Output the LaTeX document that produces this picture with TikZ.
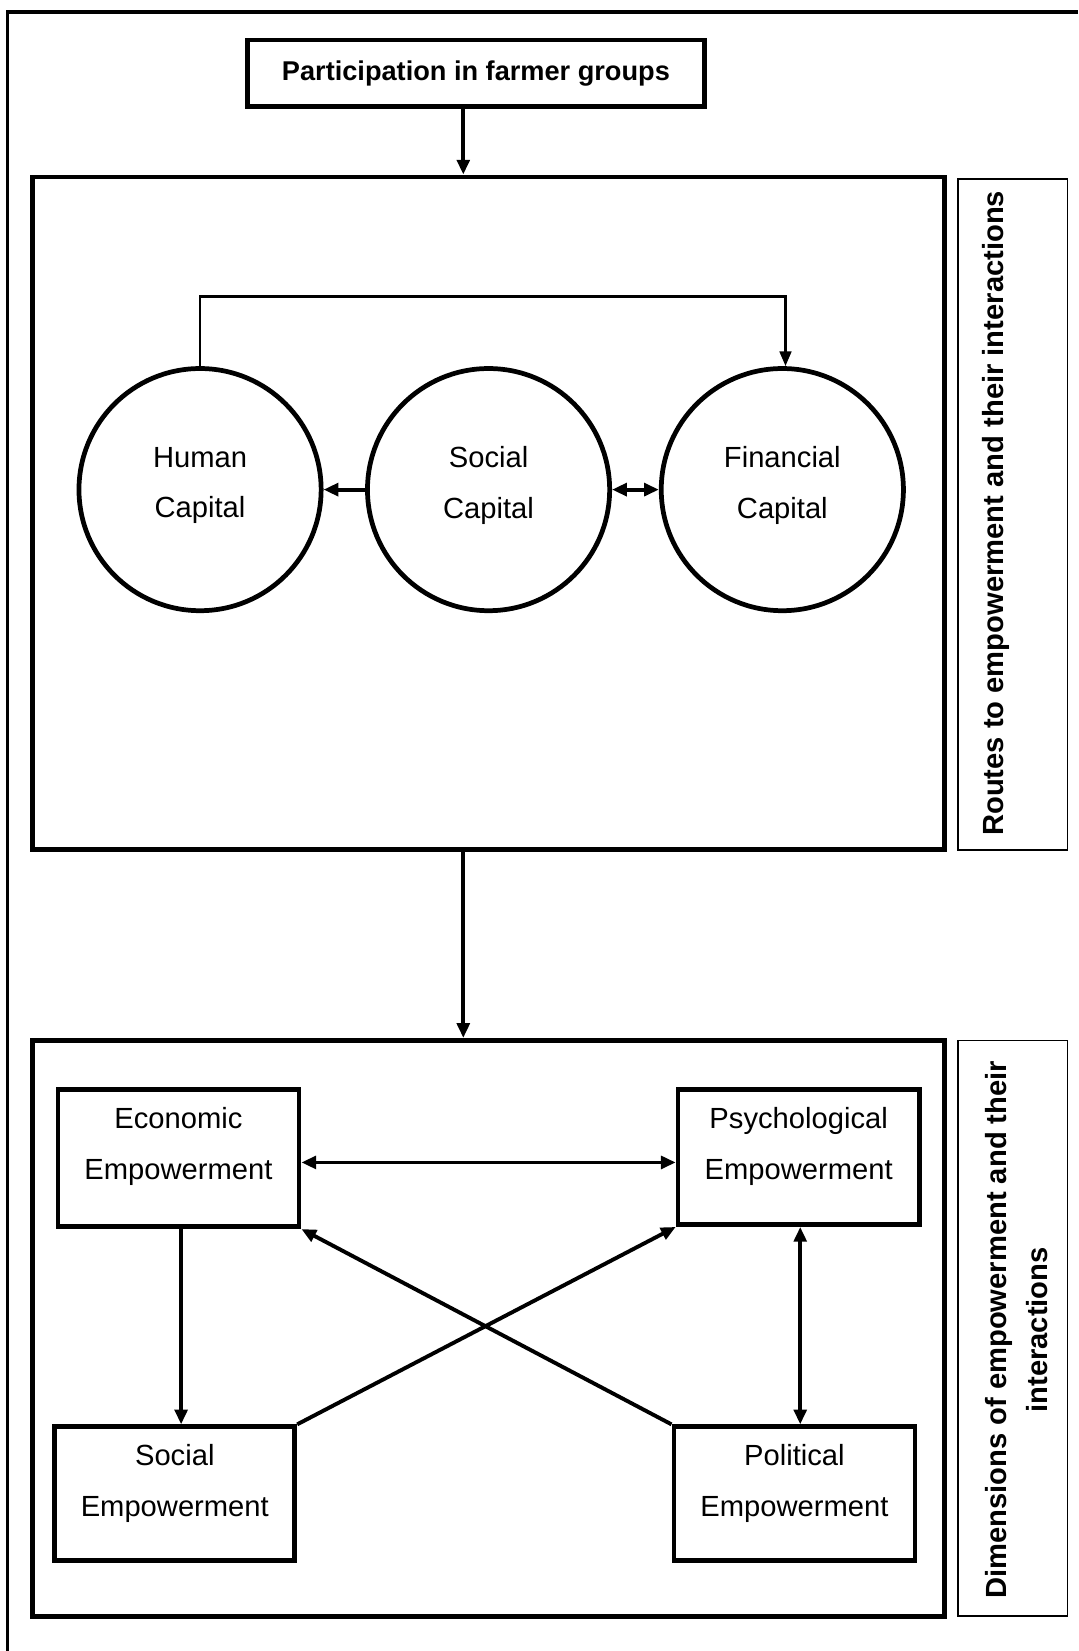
\documentclass[tikz,border=0pt]{standalone}
\usepackage{fontspec}
\setmainfont{Liberation Sans}
\usetikzlibrary{arrows.meta,calc}

\tikzset{
  outer/.style={line width=3.5pt},
  bigbox/.style={draw, line width=4.5pt, minimum width=866pt, inner sep=0pt},
  sidebox/.style={draw, line width=1.5pt, minimum width=104pt, inner sep=0pt},
  topbox/.style={draw, line width=4.5pt, minimum width=434pt, minimum height=63pt, inner sep=0pt,
    font=\bfseries\fontsize{25.8}{30}\selectfont},
  capital/.style={draw, circle, line width=4.5pt, minimum size=230pt, inner sep=0pt},
  dimbox/.style={draw, line width=4.5pt, minimum width=229pt, minimum height=129pt, inner sep=0pt},
  dimtext/.style={align=center, inner sep=0pt},
  sidetext/.style={rotate=90, align=center, inner sep=0pt,
    font=\bfseries\fontsize{27.7}{39}\selectfont},
  arr/.style={line width=3.7pt, -{Triangle[length=14pt,width=12pt]}},
  dblarr/.style={line width=3.7pt, {Triangle[length=14pt,width=12pt]}-{Triangle[length=14pt,width=12pt]}},
  link/.style={line width=2.7pt, -{Triangle[length=14pt,width=11pt]}},
}

\begin{document}
\begin{tikzpicture}[x=1pt, y=-1pt, font=\fontsize{27.7}{48}\selectfont]
\useasboundingbox[fill=white] (0,0) rectangle (1024,1568);

% frame on the top and left edges
\draw[outer] (7,1568) -- (7,11.5) -- (1024,11.5);

% starting point
\node[topbox] (part) at (452,69.5) {Participation in farmer groups};

% routes to empowerment
\node[bigbox, minimum height=639pt] (routes) at (464,487.5) {};
\node[sidebox, minimum height=637pt] (routesside) at (962,488.5) {};
\node[sidetext] (routeslbl) at (946,487.5) {Routes to empowerment and their interactions};

\node[capital] (human) at (190,465) {};
\node[capital] (social) at (464,465) {};
\node[capital] (fin) at (743,465) {};
\node[dimtext] (humanlbl) at (190,461) {Human\\Capital};
\node[dimtext] (sociallbl) at (464,461) {Social\\Capital};
\node[dimtext] (finlbl) at (743,461) {Financial\\Capital};

\draw[arr] (social.west) -- (human.east);
\draw[dblarr] (social.east) -- (fin.west);
\draw[link] (human.north) -- ++(0,-66) -| ([xshift=3pt]fin.north);

% dimensions of empowerment
\node[bigbox, minimum height=547pt] (dims) at (464,1261.5) {};
\node[sidebox, minimum height=547pt] (dimsside) at (962,1261.5) {};
\node[sidetext] (dimslbl) at (965.5,1263) {Dimensions of empowerment and their\\interactions};

\node[dimbox, minimum height=130pt] (econ) at (169.5,1100) {};
\node[dimbox, minimum height=128pt] (psych) at (758.5,1099) {};
\node[dimbox, minimum height=127pt, minimum width=228pt] (soc) at (166,1418.5) {};
\node[dimbox, minimum height=127pt] (pol) at (754.5,1418.5) {};

\node[dimtext] (econlbl) at (169.5,1089) {Economic\\Empowerment};
\node[dimtext] (psychlbl) at (758.5,1089) {Psychological\\Empowerment};
\node[dimtext] (soclbl) at (166,1409) {Social\\Empowerment};
\node[dimtext] (pollbl) at (754.5,1409) {Political\\Empowerment};

\draw[dblarr] ([yshift=-4pt]econ.east) -- ([yshift=-4pt]econ.east -| psych.west);
\draw[arr] ([xshift=2.5pt]econ.south) -- ([xshift=2.5pt]econ.south |- soc.north);
\draw[dblarr] ([xshift=1.5pt]psych.south) -- ([xshift=1.5pt]psych.south |- pol.north);
\draw[arr] (soc.north east) -- (psych.south west);
\draw[arr] (pol.north west) -- (econ.south east);

% flow between the stages
\draw[arr] ([xshift=-12pt]part.south) -- ([xshift=-12pt]part.south |- routes.north);
\draw[arr] ([xshift=-24pt]routes.south) -- ([xshift=-24pt]routes.south |- dims.north);
\end{tikzpicture}
\end{document}
